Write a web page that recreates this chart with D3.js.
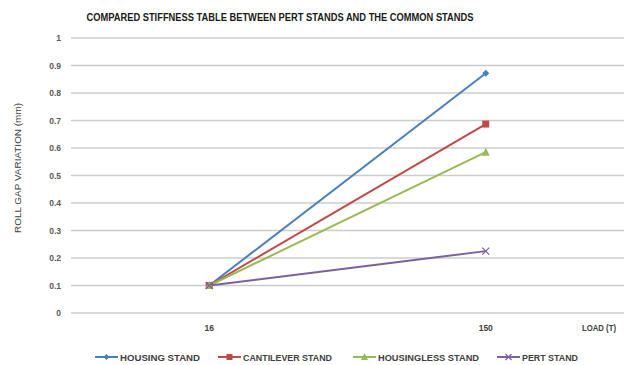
<!DOCTYPE html>
<html><head><meta charset="utf-8">
<script src="https://cdn.jsdelivr.net/npm/d3@7"></script>
<style>body{margin:0;background:#fff}svg{display:block}text{font-family:"Liberation Sans",Arial,sans-serif}</style>
</head><body>
<svg id="c" width="624" height="365"></svg>
<script>
const categories = ["16", "150"];
const seriesNames = ["HOUSING STAND", "CANTILEVER STAND", "HOUSINGLESS STAND", "PERT STAND"];
const housing = [0.1, 0.872];
const cantilever = [0.1, 0.687];
const housingless = [0.1, 0.585];
const pert = [0.1, 0.225];
const yTicks = [0, 0.1, 0.2, 0.3, 0.4, 0.5, 0.6, 0.7, 0.8, 0.9, 1];

const colors = ["#4a7ebb", "#be4b48", "#98b954", "#7d60a0"];
const markers = ["diamond", "square", "triangle", "x"];
const series = [housing, cantilever, housingless, pert].map((v, i) => ({name: seriesNames[i], values: v, color: colors[i], marker: markers[i]}));

const svg = d3.select("#c");
const x = d3.scaleBand().domain(categories).range([71, 624]);
const y = d3.scaleLinear().domain([0, 1]).range([313, 38]);
const cx = d => x(d) + x.bandwidth() / 2;

// title
svg.append("text").attr("x", 280).attr("y", 21).attr("text-anchor", "middle")
  .attr("font-weight", "bold").attr("font-size", 10).attr("fill", "#1a1a1a")
  .attr("textLength", 387).attr("lengthAdjust", "spacingAndGlyphs")
  .text("COMPARED STIFFNESS TABLE BETWEEN PERT STANDS AND THE COMMON STANDS");

// gridlines
svg.append("g").selectAll("line").data(yTicks).join("line")
  .attr("x1", 71).attr("x2", 624).attr("y1", d => y(d)).attr("y2", d => y(d))
  .attr("stroke", "#cccccc").attr("stroke-width", 1.3);

// y axis labels
const yAxis = d3.axisLeft(y).tickValues(yTicks).tickSize(0).tickPadding(0).tickFormat(d3.format("~g"));
const ya = svg.append("g").attr("transform", "translate(61,0)").call(yAxis);
ya.select(".domain").remove();
ya.selectAll("text").attr("font-size", 8.5).attr("font-weight", "bold").attr("fill", "#595959")
  .attr("font-family", "Liberation Sans, Arial, sans-serif").attr("dy", "0.35em");

// y title
svg.append("text").attr("transform", "translate(21,168) rotate(-90)").attr("text-anchor", "middle")
  .attr("font-size", 9.5).attr("fill", "#404040").attr("textLength", 130).attr("lengthAdjust", "spacingAndGlyphs")
  .text("ROLL GAP VARIATION (mm)");

// x axis labels
const xAxis = d3.axisBottom(x).tickSize(0).tickPadding(0);
const xa = svg.append("g").attr("transform", "translate(0,331)").call(xAxis);
xa.select(".domain").remove();
xa.selectAll("text").attr("font-size", 8.5).attr("font-weight", "bold").attr("fill", "#404040")
  .attr("font-family", "Liberation Sans, Arial, sans-serif").attr("dy", "0");
svg.append("text").attr("x", 582).attr("y", 331).attr("font-size", 9).attr("font-weight", "bold")
  .attr("fill", "#404040").attr("textLength", 34).attr("lengthAdjust", "spacingAndGlyphs").text("LOAD (T)");

// lines
const line = d3.line().x((d, i) => cx(categories[i])).y(d => y(d));
function drawMarker(g, type, color, px, py, s) {
  if (type === "diamond") g.append("path").attr("d", `M${px},${py-s}L${px+s},${py}L${px},${py+s}L${px-s},${py}Z`).attr("fill", color);
  else if (type === "square") g.append("rect").attr("x", px - s).attr("y", py - s).attr("width", 2*s).attr("height", 2*s).attr("fill", color);
  else if (type === "triangle") g.append("path").attr("d", `M${px},${py-s-1}L${px+s+0.5},${py+s}L${px-s-0.5},${py+s}Z`).attr("fill", color);
  else g.append("path").attr("d", `M${px-s},${py-s}L${px+s},${py+s}M${px-s},${py+s}L${px+s},${py-s}`).attr("stroke", color).attr("stroke-width", 1.3);
}
const sg = svg.append("g");
series.forEach(s => {
  sg.append("path").datum(s.values).attr("d", line).attr("fill", "none").attr("stroke", s.color).attr("stroke-width", 2);
});
series.forEach(s => {
  s.values.forEach((v, i) => drawMarker(sg, s.marker, s.color, cx(categories[i]), y(v), 3.5));
});

// legend
const legX = [95, 218, 353, 497];
const legW = [80, 89, 101, 56];
const lg = svg.append("g");
series.forEach((s, i) => {
  const ly = 357;
  lg.append("line").attr("x1", legX[i]).attr("x2", legX[i] + 23).attr("y1", ly).attr("y2", ly).attr("stroke", s.color).attr("stroke-width", 2);
  drawMarker(lg, s.marker, s.color, legX[i] + 11.5, ly, 3);
  lg.append("text").attr("x", legX[i] + 25).attr("y", ly + 3.5).attr("font-size", 9.5).attr("font-weight", "bold")
    .attr("fill", "#404040").attr("textLength", legW[i]).attr("lengthAdjust", "spacingAndGlyphs").text(s.name);
});
</script>
</body></html>
